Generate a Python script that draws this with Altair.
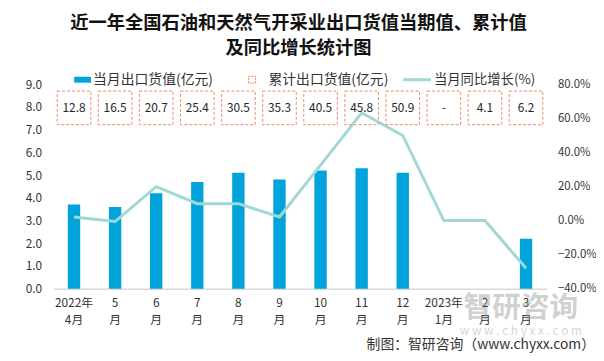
import altair as alt
import pandas as pd

# ---- data ----
categories = ["2022年\n4月", "5\n月", "6\n月", "7\n月", "8\n月", "9\n月",
              "10\n月", "11\n月", "12\n月", "2023年\n1月", "2\n月", "3\n月"]
monthly_value = [3.7, 3.6, 4.2, 4.7, 5.1, 4.8, 5.2, 5.3, 5.1, None, None, 2.2]
cumulative_value = ["12.8", "16.5", "20.7", "25.4", "30.5", "35.3",
                    "40.5", "45.8", "50.9", "-", "4.1", "6.2"]
yoy_growth = [2.1, -0.6, 19.9, 9.9, 9.9, 2.1, 32.5, 63.2, 49.9, 0.0, 0.0, -28.0]

left_ticks = [0, 1, 2, 3, 4, 5, 6, 7, 8, 9]
right_ticks = [-40, -20, 0, 20, 40, 60, 80]

title_lines = ["近一年全国石油和天然气开采业出口货值当期值、累计值", "及同比增长统计图"]
legend_labels = ["当月出口货值(亿元)", "累计出口货值(亿元)", "当月同比增长(%)"]
source_text = "制图：智研咨询（www.chyxx.com）"

BAR = "#00A3DA"
LINE = "#A0D8D5"
BOX = "#EE8866"
FONT = "Noto Sans CJK SC"
TXT = "#262626"

df = pd.DataFrame({
    "cat": categories,
    "monthly": monthly_value,
    "cum": cumulative_value,
    "yoy": yoy_growth,
})
one = pd.DataFrame({"k": [0]})

xscale = alt.Scale(domain=categories, paddingInner=0, paddingOuter=0)

xenc = alt.X("cat:N", sort=None, title=None, scale=xscale,
             axis=alt.Axis(labelAngle=0, labelExpr="split(datum.value, '\\n')",
                           labelFontSize=12, labelFont=FONT, labelColor="#333333",
                           labelPadding=9, labelLineHeight=17, ticks=False,
                           domainColor="#D9D9D9", domainWidth=1.5))

bars = alt.Chart(df).mark_bar(size=12.5, color=BAR).encode(
    x=xenc,
    y=alt.Y("monthly:Q", title=None,
            scale=alt.Scale(domain=[0, 9], nice=False),
            axis=alt.Axis(values=left_ticks, format=".1f", ticks=False, domain=False,
                          labelFontSize=12, labelFont=FONT, labelColor="#333333",
                          labelPadding=12, grid=False)),
)

line = alt.Chart(df).mark_line(color=LINE, strokeWidth=3).encode(
    x=alt.X("cat:N", sort=None, scale=xscale),
    y=alt.Y("yoy:Q", title=None,
            scale=alt.Scale(domain=[-40, 80], nice=False),
            axis=alt.Axis(orient="right", values=right_ticks,
                          labelExpr="format(datum.value, '.1f') + '%'",
                          ticks=False, domain=False, grid=False,
                          labelFontSize=11.5, labelFont=FONT, labelColor="#333333",
                          labelPadding=11)),
)

boxes = alt.Chart(df).mark_point(shape="square", size=1156, filled=False,
                                 stroke=BOX, strokeWidth=1, strokeDash=[3, 2],
                                 opacity=1).encode(
    x=alt.X("cat:N", sort=None, scale=xscale), y=alt.value(24))

box_text = alt.Chart(df).mark_text(fontSize=12, font=FONT, color=TXT,
                                   baseline="middle").encode(
    x=alt.X("cat:N", sort=None, scale=xscale), y=alt.value(24), text="cum:N")

# ---- title ----
t1 = alt.Chart(one).mark_text(text=title_lines[0], fontSize=18.5, fontWeight="bold",
                              font=FONT, color="#111111", baseline="middle").encode(
    x=alt.value(248), y=alt.value(-62))
t2 = alt.Chart(one).mark_text(text=title_lines[1], fontSize=18.5, fontWeight="bold",
                              font=FONT, color="#111111", baseline="middle").encode(
    x=alt.value(248), y=alt.value(-37))

# ---- legend ----
lg_rect = alt.Chart(one).mark_rect(color=BAR).encode(
    x=alt.value(21), x2=alt.value(38), y=alt.value(-7.5), y2=alt.value(-1.5))
lg_t1 = alt.Chart(one).mark_text(text=legend_labels[0], fontSize=14, font=FONT,
                                 color="#333333", align="left", baseline="middle").encode(
    x=alt.value(40), y=alt.value(-4.5))
lg_sq = alt.Chart(one).mark_point(shape="square", size=49, filled=False, stroke=BOX,
                                  strokeWidth=1, strokeDash=[2, 1], opacity=1).encode(
    x=alt.value(201), y=alt.value(-4.5))
lg_t2 = alt.Chart(one).mark_text(text=legend_labels[1], fontSize=14, font=FONT,
                                 color="#333333", align="left", baseline="middle").encode(
    x=alt.value(217.5), y=alt.value(-4.5))
lg_line = alt.Chart(one).mark_rule(color=LINE, strokeWidth=3).encode(
    x=alt.value(354), x2=alt.value(382), y=alt.value(-4.5))
lg_t3 = alt.Chart(one).mark_text(text=legend_labels[2], fontSize=13.5, font=FONT,
                                 color="#333333", align="left", baseline="middle").encode(
    x=alt.value(385), y=alt.value(-4.5))

# ---- watermark & source ----
wm1 = alt.Chart(one).mark_text(text="智研咨询", fontSize=29, font=FONT, fontWeight="bold",
                               color="#9a9a9a", opacity=0.45, baseline="middle").encode(
    x=alt.value(473), y=alt.value(227))
wm2 = alt.Chart(one).mark_text(text="w w w . c h y x x . c o m", fontSize=12, font=FONT,
                               color="#9a9a9a", opacity=0.4, baseline="middle").encode(
    x=alt.value(473), y=alt.value(250))
src = alt.Chart(one).mark_text(text=source_text, fontSize=14, font=FONT, color="#333333",
                               align="right", baseline="middle").encode(
    x=alt.value(548), y=alt.value(264))

chart = alt.layer(
    bars, line, boxes, box_text, t1, t2,
    lg_rect, lg_t1, lg_sq, lg_t2, lg_line, lg_t3, wm1, wm2, src
).resolve_scale(y="independent").properties(
    width=499, height=207,
    autosize=alt.AutoSizeParams(type="none"),
    padding={"left": 46, "top": 75, "right": 50, "bottom": 64},
    background="white",
).configure_view(stroke=None).configure_axis(grid=False)

chart.save("out.html", embed_options={"renderer": "svg", "actions": False})
